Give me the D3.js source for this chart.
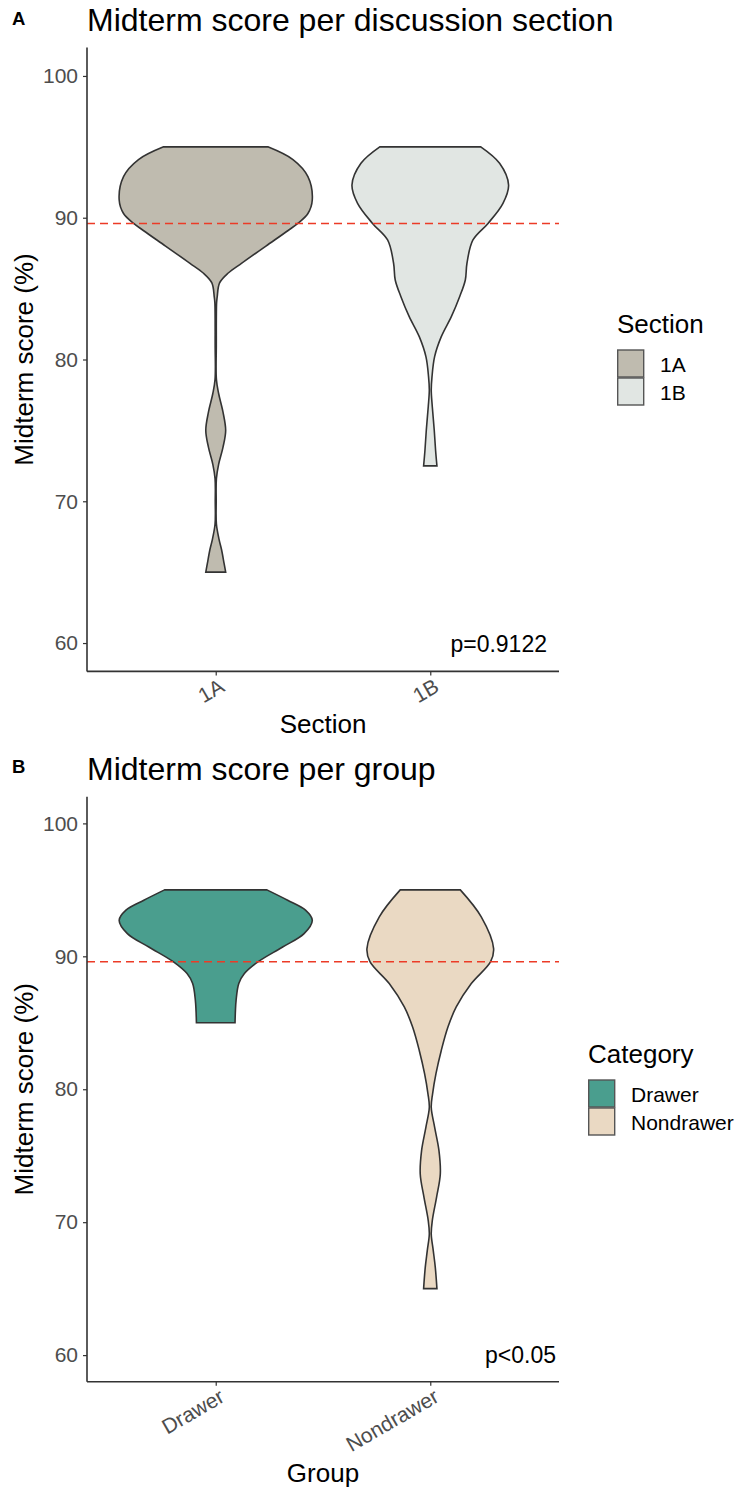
<!DOCTYPE html>
<html><head><meta charset="utf-8">
<script src="https://cdn.jsdelivr.net/npm/d3@7"></script>
<style>body{margin:0;background:#fff}svg{display:block;font-family:"Liberation Sans",Arial,sans-serif}</style>
</head><body><svg id="c" width="737" height="1490"></svg>
<script>
// ---- data ----
const scoreTicks = [60, 70, 80, 90, 100];
const sections = ["1A", "1B"];
const groups = ["Drawer", "Nondrawer"];
const meanScore = 89.6;
const sectionColors = ["#bfbbaf", "#e1e6e3"];
const groupColors = ["#4a9e8e", "#ead9c3"];
const pSections = "p=0.9122";
const pGroups = "p<0.05";
// violin profiles: [score, relative density]
const density1A = [[95,0.54],[94.1,0.8],[92.9,0.955],[91.25,1.0],[90.3,0.955],[89.6,0.85],[89.1,0.75],[88.0,0.52],[86.8,0.27],[86.1,0.13],[85.4,0.04],[84.4,0.015],[84.0,0.009],[81,0.006],[78.6,0.007],[77.6,0.03],[76.3,0.075],[75.0,0.103],[73.8,0.075],[72.6,0.03],[71.6,0.007],[70,0.005],[68.4,0.007],[67.3,0.035],[66.6,0.06],[65.6,0.087],[65.0,0.103]];
const density1B = [[95,0.523],[93.84,0.718],[92.31,0.811],[91.02,0.753],[89.6,0.598],[88.43,0.442],[86.79,0.38],[85.61,0.363],[84.43,0.304],[83.02,0.218],[81.61,0.114],[80.2,0.045],[78.79,0.018],[77.85,0.01],[76.67,0.021],[75.03,0.041],[73.6,0.055],[72.5,0.069]];
const densityDrawer = [[95,0.53],[94.22,0.745],[93.47,0.93],[92.71,1.0],[91.71,0.915],[90.7,0.693],[89.6,0.441],[88.7,0.297],[87.95,0.239],[86.69,0.211],[85.0,0.2]];
const densityNondrawer = [[95,0.311],[92.97,0.528],[90.58,0.656],[89.6,0.625],[87.95,0.425],[86.19,0.269],[84.68,0.183],[82.92,0.114],[81.17,0.059],[79.66,0.024],[78.65,0.01],[77.15,0.045],[75.39,0.09],[73.63,0.104],[71.87,0.065],[70.12,0.021],[69.11,0.01],[67.86,0.031],[66.6,0.052],[65.0,0.069]];

const svg = d3.select("#c");
const FONT_T = 32, FONT_AX = 26, FONT_TICK = 21;

function panel(o) {
  const g = svg.append("g");
  const x = d3.scalePoint().domain(o.cats).range([87, 559]).padding(0.6);
  const y = d3.scaleLinear().domain([58, 102]).range([o.yBottom, o.yTop]);
  const w = d3.scaleLinear().domain([0, 1]).range([0, 0.45 * x.step()]);
  const line = d3.line().curve(d3.curveCatmullRom.alpha(0.5));

  // panel tag & title
  g.append("text").attr("x", 12).attr("y", o.tagY).attr("font-size", 18.5).attr("font-weight", "bold").text(o.tag);
  g.append("text").attr("x", 87).attr("y", o.titleY).attr("font-size", FONT_T).attr("fill", "#000").text(o.title);

  // violins
  o.cats.forEach((c, i) => {
    const cx = x(c);
    const right = o.dens[i].map(([v, d]) => [cx + w(d), y(v)]);
    const left = o.dens[i].map(([v, d]) => [cx - w(d), y(v)]).reverse();
    const p = line(right) + "L" + line(left).slice(1) + "Z";
    g.append("path").attr("d", p).attr("fill", o.colors[i]).attr("stroke", "#333").attr("stroke-width", 1.6);
  });

  // mean line
  g.append("line").attr("x1", 87).attr("x2", 559).attr("y1", y(meanScore)).attr("y2", y(meanScore))
    .attr("stroke", "#ec3b26").attr("stroke-width", 1.5).attr("stroke-dasharray", "8,5");

  // axes
  const ya = g.append("g").attr("transform", "translate(87,0)")
    .call(d3.axisLeft(y).tickValues(scoreTicks).tickSize(4).tickPadding(5));
  ya.select(".domain").attr("d", `M0,${o.yTop}V${o.yBottom}`).attr("stroke", "#333").attr("stroke-width", 1.6);
  ya.selectAll(".tick line").attr("stroke", "#333").attr("stroke-width", 1.2);
  ya.selectAll(".tick text").attr("font-size", FONT_TICK).attr("fill", "#4d4d4d").attr("font-family", "Liberation Sans, Arial, sans-serif");

  const xa = g.append("g").attr("transform", `translate(0,${o.yBottom})`)
    .call(d3.axisBottom(x).tickSize(4));
  xa.select(".domain").attr("d", "M87,0H559").attr("stroke", "#333").attr("stroke-width", 1.6);
  xa.selectAll(".tick line").attr("stroke", "#333").attr("stroke-width", 1.2);
  xa.selectAll(".tick text").attr("font-size", FONT_TICK).attr("fill", "#4d4d4d")
    .attr("font-family", "Liberation Sans, Arial, sans-serif")
    .attr("text-anchor", "end").attr("dy", null).attr("y", null)
    .attr("dominant-baseline", "hanging")
    .attr("transform", "translate(2,6) rotate(-30)");

  // axis titles
  g.append("text").attr("x", 323).attr("y", o.xTitleY).attr("text-anchor", "middle").attr("font-size", FONT_AX).text(o.xTitle);
  g.append("text").attr("transform", `translate(33,${(o.yTop + o.yBottom) / 2}) rotate(-90)`)
    .attr("text-anchor", "middle").attr("font-size", FONT_AX).text("Midterm score (%)");

  // p-value
  g.append("text").attr("x", o.pX).attr("y", o.pY).attr("text-anchor", "end").attr("font-size", 23).text(o.p);

  // legend
  const lg = g.append("g").attr("transform", `translate(${o.legX},${o.legY})`);
  lg.append("text").attr("x", 0).attr("y", 0).attr("font-size", FONT_AX).text(o.legTitle);
  o.cats.forEach((c, i) => {
    lg.append("rect").attr("x", 0.7).attr("y", 17 + i * 28).attr("width", 26).attr("height", 27)
      .attr("fill", o.colors[i]).attr("stroke", "#555").attr("stroke-width", 1.4);
    lg.append("text").attr("x", 43).attr("y", 31 + i * 28).attr("dominant-baseline", "central")
      .attr("font-size", FONT_TICK).text(c);
  });
}

panel({tag: "A", tagY: 25, title: "Midterm score per discussion section", titleY: 31,
  cats: sections, dens: [density1A, density1B], colors: sectionColors,
  yTop: 47.6, yBottom: 671.4, xTitle: "Section", xTitleY: 733, p: pSections, pX: 547, pY: 652,
  legTitle: "Section", legX: 617, legY: 333});
panel({tag: "B", tagY: 773, title: "Midterm score per group", titleY: 780,
  cats: groups, dens: [densityDrawer, densityNondrawer], colors: groupColors,
  yTop: 796.8, yBottom: 1381.7, xTitle: "Group", xTitleY: 1482, p: pGroups, pX: 556, pY: 1363,
  legTitle: "Category", legX: 588, legY: 1063});
</script></body></html>
